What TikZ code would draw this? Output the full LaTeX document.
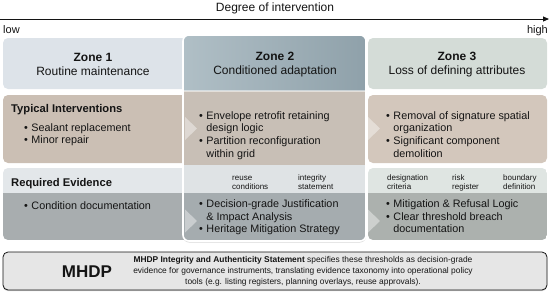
\documentclass[tikz,border=0pt]{standalone}
\usepackage{fontspec}
\setmainfont{Liberation Sans}
\usepackage{tikz}
\usetikzlibrary{arrows.meta, shadows, positioning}
\definecolor{hdA}{HTML}{DDE3E9}
\definecolor{hdBl}{HTML}{B0BFC6}
\definecolor{hdBd}{HTML}{8FA1AA}
\definecolor{hdC}{HTML}{D4DCD7}
\definecolor{tiA}{HTML}{CBBFB4}
\definecolor{tiB}{HTML}{C8BFB6}
\definecolor{tiC}{HTML}{D3C7BC}
\definecolor{evLA}{HTML}{E3E7EA}
\definecolor{evLB}{HTML}{DFE3E5}
\definecolor{evLC}{HTML}{DFE5E2}
\definecolor{evDA}{HTML}{A8ADAF}
\definecolor{evDB}{HTML}{A5ACAF}
\definecolor{evDC}{HTML}{ACB1AE}
\definecolor{mfill}{HTML}{E6E6E6}
\definecolor{ink}{HTML}{141414}
\begin{document}
\begin{tikzpicture}[x=1pt, y=-1pt,
  font=\fontsize{10.8}{12.7}\selectfont, text=ink,
  zt/.style={font=\fontsize{12}{13.2}\selectfont, align=center, inner sep=0pt},
  rowlbl/.style={font=\bfseries\fontsize{11.2}{13}\selectfont, anchor=base west, inner sep=0pt},
  blt/.style={anchor=base west, inner sep=0pt},
  tag/.style={font=\fontsize{8}{9}\selectfont, anchor=base west, inner sep=0pt},
  chev/.style={fill=white, opacity=0.4},
  mb/.style={draw=ink, line width=0.8pt, fill=mfill, rounded corners=5pt,
             minimum width=544pt, minimum height=38pt, inner sep=0pt,
             drop shadow={opacity=0.35, shadow xshift=0pt, shadow yshift=-1.2pt}}
]
\useasboundingbox (0,0) rectangle (550,293);
\node[font=\fontsize{12}{14}\selectfont, inner sep=0pt] (ttl) at (275,8.5) {Degree of intervention};
\coordinate (axs) at (0,19);
\coordinate (axe) at (549,19);
\draw[-{Triangle[length=6pt,width=5pt]}, line width=0.9pt, ink] (axs) -- (axe);
\node[anchor=west, inner sep=0pt, font=\fontsize{11}{13}\selectfont] (low) at (3,29.5) {low};
\node[anchor=east, inner sep=0pt, font=\fontsize{11}{13}\selectfont] (high) at (548,30.5) {high};

\fill[hdA, rounded corners=5pt] (3,38) rectangle (200,89);
\fill[tiA, rounded corners=5pt] (3,95) rectangle (200,163);
\begin{scope}
  \clip[rounded corners=5pt] (3,168) rectangle (200,240);
  \fill[evLA] (3,168) rectangle (200,193);
  \fill[evDA] (3,193) rectangle (200,240);
\end{scope}
\fill[hdC, rounded corners=5pt] (368,38) rectangle (547,89);
\fill[tiC, rounded corners=5pt] (368,95) rectangle (547,163);
\begin{scope}
  \clip[rounded corners=5pt] (368,168) rectangle (547,240);
  \fill[evLC] (368,168) rectangle (547,193);
  \fill[evDC] (368,193) rectangle (547,240);
\end{scope}

\path[fill=white, rounded corners=6pt, drop shadow={opacity=0.3, shadow xshift=0pt, shadow yshift=-1.5pt}] (183,35) rectangle (366,241);
\begin{scope}
  \clip[rounded corners=6pt] (183,35) rectangle (366,241);
  \shade[left color=hdBl, right color=hdBd] (183,35) rectangle (366,91);
  \fill[tiB] (183,91) rectangle (366,165);
  \fill[evLB] (183,165) rectangle (366,193);
  \fill[evDB] (183,193) rectangle (366,241);
  \fill[white, opacity=0.5] (183,90) rectangle (366,92);
\end{scope}
\draw[white, line width=1.6pt, rounded corners=6pt] (183,35) rectangle (366,241);

\foreach \cx in {185,368}
  \foreach \cy in {128.5,221}
    \fill[chev] (\cx,\cy-11.5) -- (\cx+12,\cy) -- (\cx,\cy+11.5) -- cycle;

\node[zt] (z1) at (93,64.5) {\textbf{Zone 1}\\Routine maintenance};
\node[zt] (z2) at (275,64.5) {\textbf{Zone 2}\\Conditioned adaptation};
\node[zt] (z3) at (457,64.5) {\textbf{Zone 3}\\Loss of defining attributes};

\node[rowlbl] (ti) at (11,112) {Typical Interventions};
\node[blt] (ti1) at (24,131) {\begin{tabular}[t]{@{}l@{\hspace{3.5pt}}l@{}}\textbullet & Sealant replacement\\ \textbullet & Minor repair\end{tabular}};
\node[blt] (ti2) at (199,119) {\begin{tabular}[t]{@{}l@{\hspace{3.5pt}}l@{}}\textbullet & Envelope retrofit retaining\\ & design logic\\ \textbullet & Partition reconfiguration\\ & within grid\end{tabular}};
\node[blt] (ti3) at (386,119) {\begin{tabular}[t]{@{}l@{\hspace{3.5pt}}l@{}}\textbullet & Removal of signature spatial\\ & organization\\ \textbullet & Significant component\\ & demolition\end{tabular}};

\node[rowlbl] (re) at (11,186.5) {Required Evidence};
\node[tag] (g1) at (232,180) {\begin{tabular}[t]{@{}l@{}}reuse\\conditions\end{tabular}};
\node[tag] (g2) at (298,180) {\begin{tabular}[t]{@{}l@{}}integrity\\statement\end{tabular}};
\node[tag] (g3) at (387,180) {\begin{tabular}[t]{@{}l@{}}designation\\criteria\end{tabular}};
\node[tag] (g4) at (452,180) {\begin{tabular}[t]{@{}l@{}}risk\\register\end{tabular}};
\node[tag] (g5) at (503,180) {\begin{tabular}[t]{@{}l@{}}boundary\\definition\end{tabular}};
\node[blt] (re1) at (24,209) {\begin{tabular}[t]{@{}l@{\hspace{3.5pt}}l@{}}\textbullet & Condition documentation\end{tabular}};
\node[blt] (re2) at (199,207.5) {\begin{tabular}[t]{@{}l@{\hspace{3.5pt}}l@{}}\textbullet & Decision-grade Justification\\ & \& Impact Analysis\\ \textbullet & Heritage Mitigation Strategy\end{tabular}};
\node[blt] (re3) at (386,207.5) {\begin{tabular}[t]{@{}l@{\hspace{3.5pt}}l@{}}\textbullet & Mitigation \& Refusal Logic\\ \textbullet & Clear threshold breach\\ & documentation\end{tabular}};

\node[mb] (mbox) at (275,271) {};
\node[font=\bfseries\fontsize{17}{20}\selectfont, inner sep=0pt] (mlab) at (87,272) {MHDP};
\node[font=\fontsize{8.4}{11.3}\selectfont, align=center, inner sep=0pt] (mtxt) at (303,271.5) {\textbf{MHDP Integrity and Authenticity Statement} specifies these thresholds as decision-grade\\evidence for governance instruments, translating evidence taxonomy into operational policy\\tools (e.g. listing registers, planning overlays, reuse approvals).};
\end{tikzpicture}
\end{document}
